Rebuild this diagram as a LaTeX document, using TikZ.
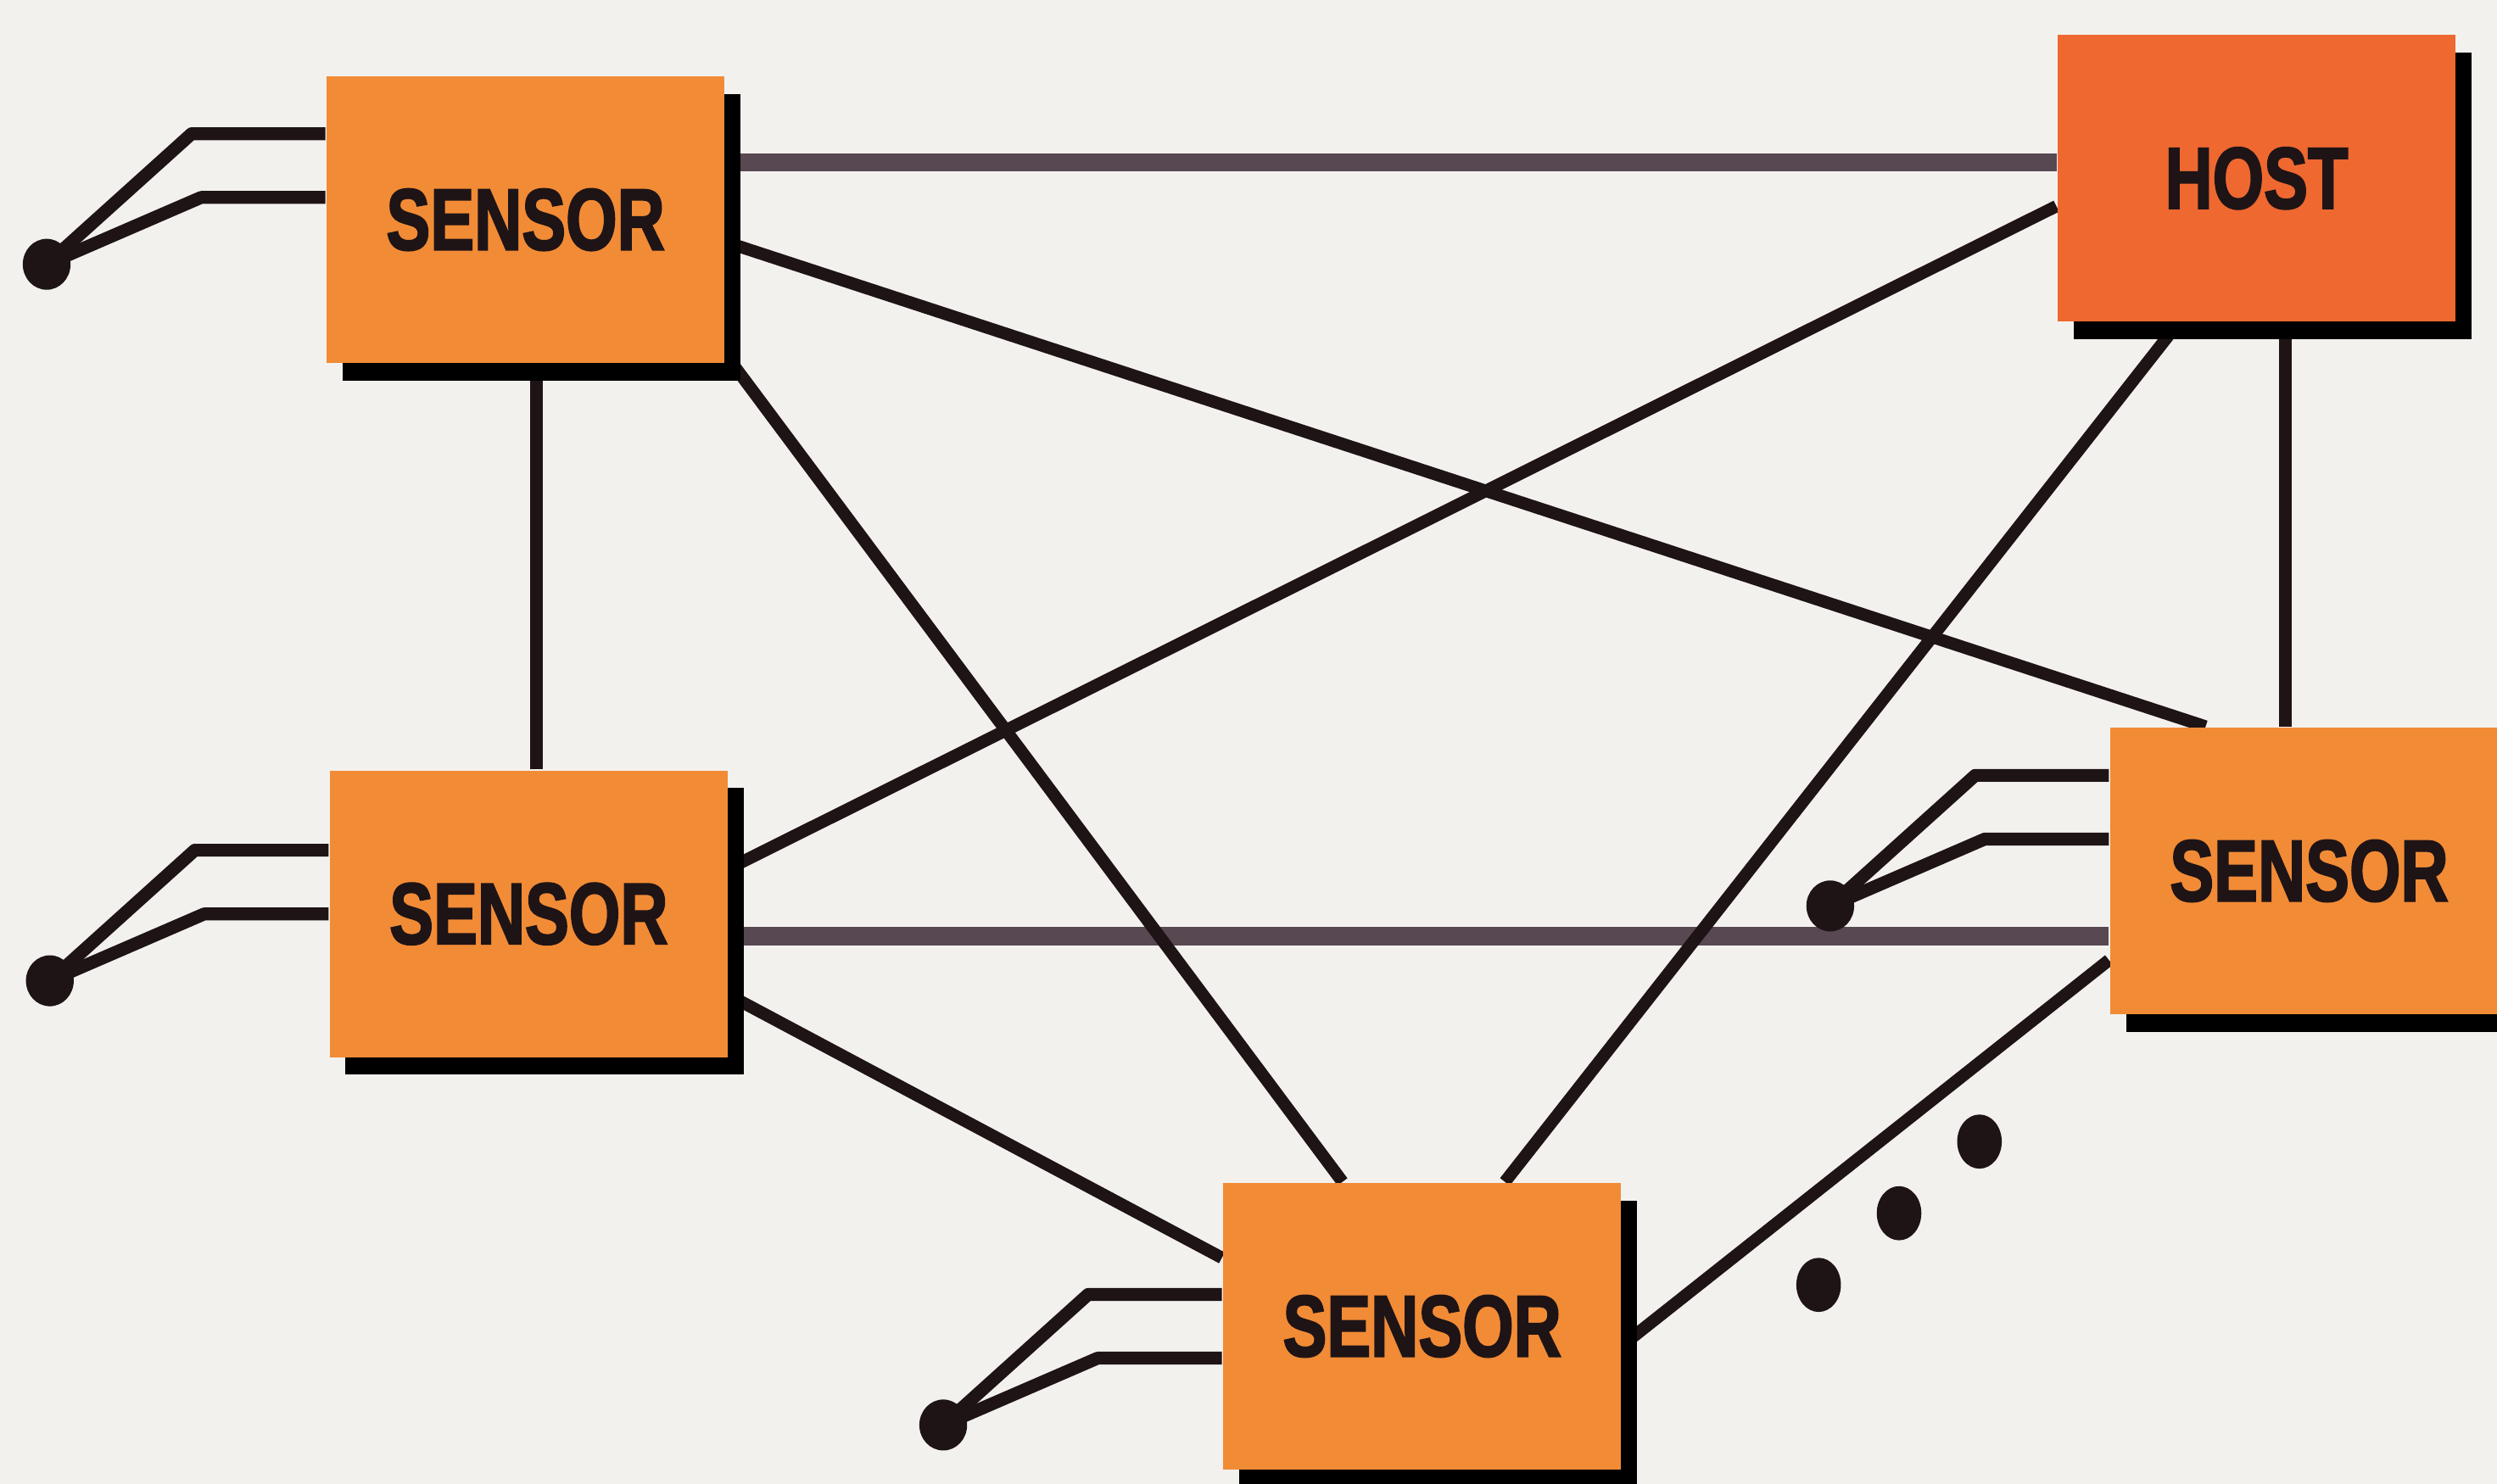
\documentclass[tikz,border=0pt]{standalone}
\usepackage{fontspec}
\usepackage{graphicx}
\newfontfamily\boxfont[FakeBold=2.5]{Liberation Sans}
\newcommand\unitlabel[1]{\scalebox{0.76}[1]{#1}}
\usetikzlibrary{shadows,backgrounds}
\definecolor{sensorfill}{HTML}{F28B36}
\definecolor{hostfill}{HTML}{EE6830}
\definecolor{paper}{HTML}{F3F1EE}
\definecolor{wire}{HTML}{1E1416}
\definecolor{busline}{HTML}{584852}
\begin{document}
\begin{tikzpicture}[
    unit/.style={rectangle, minimum width=2.5cm, minimum height=1.8cm, inner sep=0pt,
      text=wire, font=\boxfont\bfseries\fontsize{15.5}{16}\selectfont,
      drop shadow={shadow xshift=1mm, shadow yshift=-1.1mm, opacity=1, fill=black}},
    sensor/.style={unit, fill=sensorfill},
    host/.style={unit, fill=hostfill},
    link/.style={draw=wire, line width=2.2pt},
    bus/.style={draw=busline, line width=3.2pt},
    lead/.style={draw=wire, line width=2.3pt, line join=round}]
  \useasboundingbox (0,0) rectangle (15.68,9.32);
  % Units
  \node[sensor] (s1) at (3.30,7.94) {\unitlabel{SENSOR}};
  \node[host] (host) at (14.17,8.20) {\unitlabel{HOST}};
  \node[sensor] (s2) at (3.32,3.58) {\unitlabel{SENSOR}};
  \node[sensor] (s3) at (14.50,3.85) {\unitlabel{SENSOR}};
  \node[sensor] (s4) at (8.93,0.99) {\unitlabel{SENSOR}};
  \begin{scope}[on background layer]
    \fill[paper] (0,0) rectangle (15.68,9.32);
    % Buses
    \draw[bus] ([yshift=3.6mm]s1.east) -- ([yshift=3.6mm]s1.east -| host.west);
    \draw[bus] ([yshift=-1.4mm]s2.east) -- ([yshift=-1.4mm]s2.east -| s3.west);
    % Links
    \draw[link] ([yshift=-1.4mm]s1.east) -- ([xshift=-6.5mm]s3.north);
    \draw[link] ([yshift=0.6mm]s1.south east) -- ([xshift=-5mm]s4.north);
    \draw[link] ([xshift=0.7mm]s1.south) -- ([xshift=0.7mm]s1.south |- s2.north);
    \draw[link] ([yshift=-1.75mm]host.west) -- ([yshift=2.85mm]s2.east);
    \draw[link] ([xshift=-4.9mm]host.south) -- ([xshift=5.2mm]s4.north);
    \draw[link] ([xshift=1.8mm]host.south) -- ([xshift=1.8mm]host.south |- s3.north);
    \draw[link] ([yshift=-5.1mm]s2.east) -- ([yshift=4.3mm]s4.west);
    \draw[link] ([yshift=-1.2mm]s4.east) -- ([yshift=-5.6mm]s3.west);
    % Probes
    \foreach \s/\u in {s1/0.54, s2/0.40, s3/0.60, s4/0.20} {
      \coordinate (\s tip) at ([shift={(-1.75,{\u-0.82})}]\s.west);
      \draw[lead] ([yshift=\u cm]\s.west) -- ++(-0.84,0) -- (\s tip);
      \draw[lead] ([yshift={(\u-0.40)*1cm}]\s.west) -- ++(-0.78,0) -- (\s tip);
      \fill[wire] (\s tip) ellipse (0.15 and 0.16);
    }
  \end{scope}
  % More sensors
  \foreach \i in {0,1,2}
    \fill[wire] ({11.42+0.505*\i},{1.25+0.45*\i}) ellipse (0.14 and 0.17);
\end{tikzpicture}
\end{document}
